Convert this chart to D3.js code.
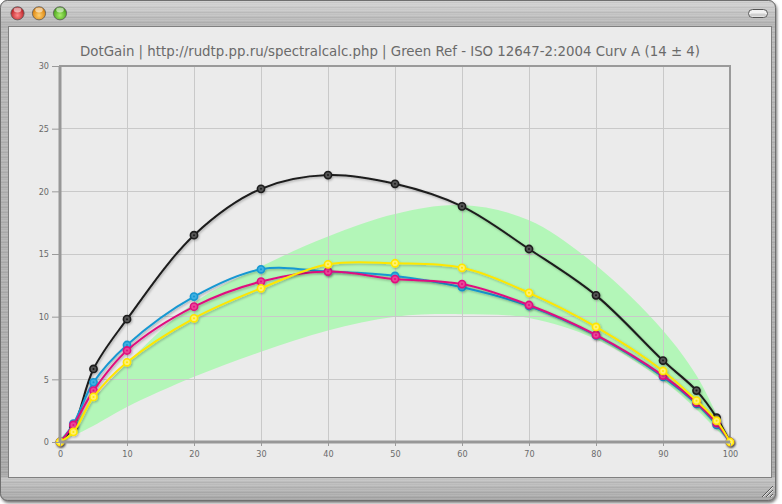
<!DOCTYPE html>
<html>
<head>
<meta charset="utf-8">
<script src="https://cdn.jsdelivr.net/npm/d3@7"></script>
<style>
  html, body { margin: 0; padding: 0; background: #ffffff; }
  svg { display: block; }
</style>
</head>
<body>
<svg id="chart" width="782" height="504"></svg>
<script>
// ---------- DATA ----------
const titleText = "DotGain | http://rudtp.pp.ru/spectralcalc.php | Green Ref - ISO 12647-2:2004 Curv A (14 \u00b1 4)";
const pct      = [0, 2, 5, 10, 20, 30, 40, 50, 60, 70, 80, 90, 95, 98, 100];
const cyan     = [0, 1.46, 4.76, 7.74, 11.6, 13.78, 13.6, 13.25, 12.35, 10.85, 8.5, 5.2, 3.05, 1.36, 0];
const magenta  = [0, 1.36, 4.1, 7.3, 10.8, 12.8, 13.6, 13.0, 12.6, 10.93, 8.54, 5.3, 3.14, 1.5, 0];
const yellow   = [0, 0.8, 3.6, 6.36, 9.87, 12.26, 14.18, 14.26, 13.9, 11.9, 9.18, 5.67, 3.3, 1.7, 0];
const black    = [0, 1.2, 5.83, 9.8, 16.5, 20.2, 21.3, 20.6, 18.8, 15.4, 11.7, 6.5, 4.1, 1.95, 0];
const bandUpper = [0.3, 1.4, 3.4, 6.3, 11.1, 14.0, 16.4, 18.2, 18.9, 17.7, 14.1, 8.9, 5.3, 2.2, 0];
const bandLower = [0, 0.5, 1.3, 2.8, 5.2, 7.2, 8.9, 10.0, 10.2, 9.9, 8.2, 4.9, 2.6, 1.0, 0];
const xTicks = [0, 10, 20, 30, 40, 50, 60, 70, 80, 90, 100];
const yTicks = [0, 5, 10, 15, 20, 25, 30];

// drawn in this order (black first, yellow on top)
const seriesDefs = [
  { name: "K", values: black,   color: "#1c1c1c", fill: "#555555" },
  { name: "C", values: cyan,    color: "#1698d2", fill: "#3fb0e2" },
  { name: "M", values: magenta, color: "#e0117f", fill: "#ea4598" },
  { name: "Y", values: yellow,  color: "#ffe600", fill: "#fff170" }
];

// ---------- SETUP ----------
const svg = d3.select("#chart");
const defs = svg.append("defs");

const mg = defs.append("linearGradient").attr("id", "metal").attr("x1", 0).attr("y1", 0).attr("x2", 0).attr("y2", 1);
mg.append("stop").attr("offset", "0%").attr("stop-color", "#c9c9c9");
mg.append("stop").attr("offset", "5%").attr("stop-color", "#b8b8b8");
mg.append("stop").attr("offset", "95%").attr("stop-color", "#a9a9a9");
mg.append("stop").attr("offset", "100%").attr("stop-color", "#9a9a9a");

const tb = defs.append("linearGradient").attr("id", "titlebar").attr("x1", 0).attr("y1", 0).attr("x2", 0).attr("y2", 1);
tb.append("stop").attr("offset", "0%").attr("stop-color", "#d4d4d4");
tb.append("stop").attr("offset", "100%").attr("stop-color", "#b0b0b0");

const bb = defs.append("linearGradient").attr("id", "bottombar").attr("x1", 0).attr("y1", 0).attr("x2", 0).attr("y2", 1);
bb.append("stop").attr("offset", "0%").attr("stop-color", "#c4c4c4");
bb.append("stop").attr("offset", "100%").attr("stop-color", "#a6a6a6");

const pat = defs.append("pattern").attr("id", "brush").attr("width", 8).attr("height", 5).attr("patternUnits", "userSpaceOnUse");
pat.append("rect").attr("x", 0).attr("y", 0).attr("width", 8).attr("height", 1).attr("fill", "#ffffff").attr("opacity", 0.12);
pat.append("rect").attr("x", 0).attr("y", 2).attr("width", 8).attr("height", 1).attr("fill", "#000000").attr("opacity", 0.05);
pat.append("rect").attr("x", 0).attr("y", 3).attr("width", 8).attr("height", 1).attr("fill", "#ffffff").attr("opacity", 0.07);

function ballGrad(id, c1, c2) {
  const g = defs.append("radialGradient").attr("id", id).attr("cx", "50%").attr("cy", "65%").attr("r", "60%");
  g.append("stop").attr("offset", "0%").attr("stop-color", c1);
  g.append("stop").attr("offset", "100%").attr("stop-color", c2);
}
ballGrad("gRed", "#ff8a8a", "#b3141a");
ballGrad("gOrange", "#ffd070", "#d77a00");
ballGrad("gGreen", "#a8ef6a", "#3f9a12");

const shadow = defs.append("filter").attr("id", "lineShadow").attr("x", "-5%").attr("y", "-5%").attr("width", "110%").attr("height", "115%");
shadow.append("feDropShadow").attr("dx", 1).attr("dy", 1.2).attr("stdDeviation", 0.8).attr("flood-color", "#000").attr("flood-opacity", 0.28);

const winShadow = defs.append("filter").attr("id", "winShadow").attr("x", "-2%").attr("y", "-2%").attr("width", "104%").attr("height", "104%");
winShadow.append("feDropShadow").attr("dx", 1).attr("dy", 2).attr("stdDeviation", 1.5).attr("flood-color", "#000").attr("flood-opacity", 0.55);

// ---------- WINDOW CHROME ----------
svg.append("rect").attr("x", 0.5).attr("y", 0.5).attr("width", 775).attr("height", 500).attr("rx", 7)
  .attr("fill", "url(#metal)").attr("stroke", "#7a7a7a").attr("filter", "url(#winShadow)");
svg.append("path").attr("d", "M0.5,27 V7.5 a7,7 0 0 1 7,-7 H768.5 a7,7 0 0 1 7,7 V27 Z").attr("fill", "url(#titlebar)");
svg.append("path").attr("d", "M0.5,477 H775.5 V493.5 a7,7 0 0 1 -7,7 H7.5 a7,7 0 0 1 -7,-7 Z").attr("fill", "url(#bottombar)");
svg.append("rect").attr("x", 1).attr("y", 1).attr("width", 774).attr("height", 499).attr("rx", 7).attr("fill", "url(#brush)");
svg.append("rect").attr("x", 0.5).attr("y", 0.5).attr("width", 775).attr("height", 500).attr("rx", 7)
  .attr("fill", "none").attr("stroke", "#6f6f6f");

[["gRed", 17.5], ["gOrange", 39], ["gGreen", 60]].forEach(([g, cx]) => {
  svg.append("circle").attr("cx", cx).attr("cy", 13.3).attr("r", 6.6).attr("fill", `url(#${g})`).attr("stroke", "#5a5a5a").attr("stroke-width", 0.8);
  svg.append("ellipse").attr("cx", cx).attr("cy", 10).attr("rx", 3.8).attr("ry", 2.4).attr("fill", "#ffffff").attr("opacity", 0.55);
});
svg.append("rect").attr("x", 748.5).attr("y", 9.5).attr("width", 19).attr("height", 8).attr("rx", 4)
  .attr("fill", "#f2f2f2").attr("stroke", "#555").attr("stroke-width", 1);
svg.append("rect").attr("x", 750).attr("y", 13.5).attr("width", 16).attr("height", 3).attr("rx", 1.5)
  .attr("fill", "#cfcfcf");

[0, 4, 8].forEach(o => {
  svg.append("line").attr("x1", 762 + o).attr("y1", 497).attr("x2", 773).attr("y2", 486 + o)
    .attr("stroke", "#555").attr("stroke-width", 1);
  svg.append("line").attr("x1", 763 + o).attr("y1", 497).attr("x2", 773).attr("y2", 487 + o)
    .attr("stroke", "#eee").attr("stroke-width", 0.8);
});

svg.append("rect").attr("x", 8.5).attr("y", 26.5).attr("width", 763).attr("height", 451)
  .attr("fill", "#ebebeb").attr("stroke", "#808080").attr("stroke-width", 1);

// ---------- CHART ----------
const x = d3.scaleLinear().domain([0, 100]).range([60, 730]);
const y = d3.scaleLinear().domain([0, 30]).range([442, 66]);

svg.append("text").attr("x", 390).attr("y", 56).attr("text-anchor", "middle")
  .attr("font-family", "DejaVu Sans Condensed, DejaVu Sans, sans-serif").attr("font-size", 13.5).attr("fill", "#6a6a6a")
  .attr("textLength", 620).attr("lengthAdjust", "spacingAndGlyphs")
  .text(titleText);

const plot = svg.append("g");

const area = d3.area().x((d, i) => x(pct[i])).y0((d, i) => y(bandLower[i])).y1((d, i) => y(bandUpper[i]))
  .curve(d3.curveCatmullRom.alpha(0.5));
plot.append("path").datum(pct).attr("d", area).attr("fill", "#b3f6b8");

plot.append("g").selectAll("line").data(xTicks.filter(v => v > 0 && v < 100)).join("line")
  .attr("x1", d => x(d)).attr("x2", d => x(d)).attr("y1", y(30)).attr("y2", y(0))
  .attr("stroke", "#c9c9c9").attr("stroke-width", 1).attr("shape-rendering", "crispEdges");
plot.append("g").selectAll("line").data(yTicks.filter(v => v > 0 && v < 30)).join("line")
  .attr("x1", x(0)).attr("x2", x(100)).attr("y1", d => y(d)).attr("y2", d => y(d))
  .attr("stroke", "#c9c9c9").attr("stroke-width", 1).attr("shape-rendering", "crispEdges");

plot.append("rect").attr("x", x(0)).attr("y", y(30)).attr("width", x(100) - x(0)).attr("height", y(0) - y(30))
  .attr("fill", "none").attr("stroke", "#9a9a9a").attr("stroke-width", 2);

const xAxis = d3.axisBottom(x).tickValues(xTicks).tickSize(5).tickPadding(4).tickFormat(d3.format("d"));
const gx = svg.append("g").attr("transform", `translate(0,${y(0)})`).call(xAxis);
const yAxis = d3.axisLeft(y).tickValues(yTicks).tickSize(8).tickPadding(3).tickFormat(d3.format("d"));
const gy = svg.append("g").attr("transform", `translate(${x(0)},0)`).call(yAxis);
[gx, gy].forEach(g => {
  g.select(".domain").attr("stroke", "#979797").attr("stroke-width", 3);
  g.selectAll(".tick line").attr("stroke", "#9a9a9a").attr("stroke-width", 1);
  g.selectAll(".tick text").attr("fill", "#6a6a6a").attr("font-size", 9)
    .attr("font-family", "DejaVu Sans Condensed, DejaVu Sans, sans-serif");
});
gx.select(".domain").attr("d", `M${x(0)},0H${x(100)}`);
gy.select(".domain").attr("d", `M0,${y(0)}V${y(30)}`);
gx.selectAll(".tick line").attr("y1", 1).attr("y2", 4);

const line = d3.line().x((d, i) => x(pct[i])).y(d => y(d)).curve(d3.curveCatmullRom.alpha(0.5));
seriesDefs.forEach(s => {
  const g = plot.append("g").attr("filter", "url(#lineShadow)");
  g.append("path").datum(s.values).attr("d", line).attr("fill", "none")
    .attr("stroke", s.color).attr("stroke-width", 2).attr("stroke-linejoin", "round");
  const pts = g.selectAll("g.pt").data(s.values.map((v, i) => [pct[i], v])).join("g").attr("class", "pt");
  pts.append("circle").attr("cx", d => x(d[0])).attr("cy", d => y(d[1])).attr("r", 3.6)
    .attr("fill", s.fill).attr("stroke", s.color).attr("stroke-width", 1.6);
  pts.append("circle").attr("cx", d => x(d[0])).attr("cy", d => y(d[1])).attr("r", 1)
    .attr("fill", s.color);
});
</script>
</body>
</html>
